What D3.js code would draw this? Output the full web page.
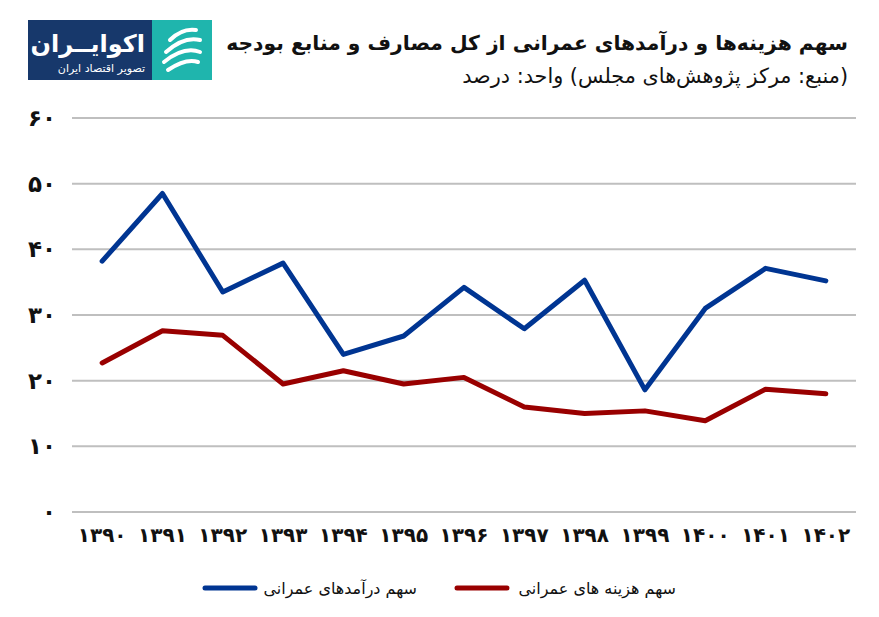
<!DOCTYPE html>
<html><head><meta charset="utf-8">
<script src="https://cdn.jsdelivr.net/npm/d3@7"></script>
<style>
html,body{margin:0;padding:0;background:#fff;}
text{font-family:"DejaVu Sans","Noto Sans",sans-serif;}
</style></head>
<body><svg id="c" width="879" height="617"></svg>
<script>
const years = ["1390","1391","1392","1393","1394","1395","1396","1397","1398","1399","1400","1401","1402"];
const revenueShare = [38.2,48.5,33.5,37.9,24.0,26.8,34.2,27.9,35.3,18.6,31.0,37.1,35.2];
const expenseShare = [22.7,27.6,26.9,19.5,21.5,19.5,20.5,16.0,15.0,15.4,13.9,18.7,18.0];
const yTicks = [0,10,20,30,40,50,60];
const seriesNames = ["سهم درآمدهای عمرانی","سهم هزینه های عمرانی"];
const title = "سهم هزینه‌ها و درآمدهای عمرانی از کل مصارف و منابع بودجه";
const subtitle = "(منبع: مرکز پژوهش‌های مجلس) واحد: درصد";

(function(){
const fa = s => String(s).replace(/\d/g, d => "۰۱۲۳۴۵۶۷۸۹"[d]);
const svg = d3.select("#c");
const pLeft = 72, pRight = 856, pTop = 118, pBottom = 512;
const x = d3.scaleBand().domain(years).range([pLeft, pRight]).padding(0);
const y = d3.scaleLinear().domain([0,60]).range([pBottom, pTop]);

// gridlines
svg.append("g").selectAll("line").data(yTicks).join("line")
  .attr("x1", pLeft).attr("x2", pRight)
  .attr("y1", d => y(d)).attr("y2", d => y(d))
  .attr("stroke", "#bfbfbf").attr("stroke-width", 2);

// y axis labels
const yAxis = d3.axisLeft(y).tickValues(yTicks).tickSize(0).tickPadding(0).tickFormat(fa);
svg.append("g").attr("transform", `translate(56,0)`).call(yAxis)
  .call(g => g.select(".domain").remove())
  .selectAll("text").attr("font-size", 23).attr("font-weight", "bold").attr("fill", "#111")
  .attr("font-family", "DejaVu Sans");

// x axis labels
const xAxis = d3.axisBottom(x).tickSize(0).tickPadding(0).tickFormat(fa);
svg.append("g").attr("transform", `translate(0,528)`).call(xAxis)
  .call(g => g.select(".domain").remove())
  .selectAll("text").attr("font-size", 20).attr("font-weight", "bold").attr("fill", "#111")
  .attr("font-family", "DejaVu Sans");

const line = d3.line().x((d,i) => x(years[i]) + x.bandwidth()/2).y(d => y(d));
const colors = ["#003592", "#990000"];
[revenueShare, expenseShare].forEach((s, i) => {
  svg.append("path").datum(s).attr("d", line).attr("fill", "none")
    .attr("stroke", colors[i]).attr("stroke-width", 5)
    .attr("stroke-linejoin", "round").attr("stroke-linecap", "round");
});

// legend
const legendPos = [{lx1:205, lx2:255, tx:417}, {lx1:457, lx2:507, tx:676}];
seriesNames.forEach((n, i) => {
  const p = legendPos[i];
  svg.append("line").attr("x1", p.lx1).attr("x2", p.lx2).attr("y1", 588).attr("y2", 588)
    .attr("stroke", colors[i]).attr("stroke-width", 5).attr("stroke-linecap", "round");
  svg.append("text").attr("x", p.tx).attr("y", 594).attr("text-anchor", "start")
    .attr("direction", "rtl").attr("font-size", 16).attr("fill", "#111").text(n);
});

// title
svg.append("text").attr("x", 848).attr("y", 50).attr("text-anchor", "start")
  .attr("direction", "rtl").attr("font-size", 20.3).attr("font-weight", "bold").attr("fill", "#111").text(title);
svg.append("text").attr("x", 848).attr("y", 83).attr("text-anchor", "start")
  .attr("direction", "rtl").attr("font-size", 20.8).attr("fill", "#111").text(subtitle);

// logo
const logo = svg.append("g");
logo.append("rect").attr("x", 28).attr("y", 20).attr("width", 124).attr("height", 60).attr("fill", "#17386b");
logo.append("rect").attr("x", 152).attr("y", 20).attr("width", 60).attr("height", 60).attr("fill", "#1fb5ad");
logo.append("text").attr("x", 145).attr("y", 52).attr("text-anchor", "start").attr("direction", "rtl")
  .attr("font-size", 24).attr("font-weight", "bold").attr("fill", "#fff").text("اکوایــران");
logo.append("text").attr("x", 145).attr("y", 72).attr("text-anchor", "start").attr("direction", "rtl")
  .attr("font-size", 11).attr("fill", "#fff").text("تصویر اقتصاد ایران");
const ic = logo.append("g").attr("fill", "none").attr("stroke", "#fff").attr("stroke-width", 4).attr("stroke-linecap", "round");
ic.append("path").attr("d", "M170,40 Q182,28 196,30");
ic.append("path").attr("d", "M166,52 Q184,36 200,40");
ic.append("path").attr("d", "M164,62 Q184,46 200,52");
ic.append("path").attr("d", "M168,70 Q186,58 198,62");
})();
</script></body></html>
